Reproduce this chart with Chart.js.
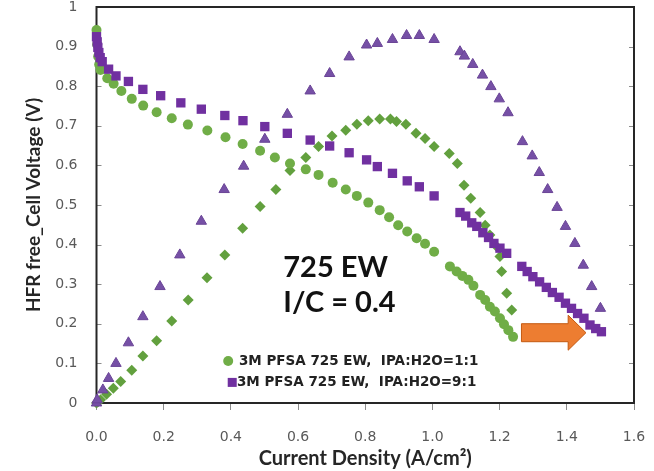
<!DOCTYPE html>
<html>
<head>
<meta charset="utf-8">
<script src="https://cdn.jsdelivr.net/npm/chart.js@4.4.0/dist/chart.umd.min.js"></script>
<style>
  html, body { margin: 0; padding: 0; background: #fff; }
  #wrap { width: 654px; height: 471px; }
</style>
</head>
<body>
<div id="wrap"><canvas id="polChart" width="654" height="471"></canvas></div>
<script>
// current density (A/cm2) and HFR-free voltage, IPA:H2O = 1:1
const circX = [0, 0.002, 0.005, 0.008, 0.012, 0.032, 0.051, 0.074, 0.105, 0.139, 0.179, 0.224, 0.272, 0.330, 0.384,
  0.435, 0.487, 0.531, 0.576, 0.623, 0.661, 0.703, 0.742, 0.775, 0.809, 0.843, 0.871, 0.898, 0.925, 0.953,
  0.978, 1.005, 1.052, 1.072, 1.089, 1.107, 1.122, 1.142, 1.157, 1.171, 1.186, 1.201, 1.213, 1.226, 1.240];
const circV = [0.942, 0.905, 0.875, 0.855, 0.841, 0.820, 0.806, 0.788, 0.768, 0.751, 0.734, 0.719, 0.703, 0.688, 0.671,
  0.654, 0.637, 0.620, 0.605, 0.590, 0.576, 0.556, 0.539, 0.523, 0.506, 0.487, 0.469, 0.449, 0.433, 0.416,
  0.402, 0.382, 0.345, 0.332, 0.321, 0.311, 0.296, 0.273, 0.260, 0.243, 0.231, 0.214, 0.199, 0.184, 0.167];

// power density markers (right axis, read against left scale), IPA:H2O = 1:1
const diamX = [0, 0.004, 0.012, 0.030, 0.050, 0.072, 0.105, 0.138, 0.179, 0.224, 0.273, 0.329, 0.382, 0.435, 0.487,
  0.534, 0.576, 0.623, 0.661, 0.701, 0.742, 0.775, 0.809, 0.843, 0.875, 0.893, 0.921, 0.951, 0.978, 1.005,
  1.050, 1.074, 1.094, 1.114, 1.142, 1.157, 1.171, 1.191, 1.201, 1.206, 1.221, 1.236];
const diamP = [0, 0.003, 0.008, 0.022, 0.037, 0.054, 0.083, 0.119, 0.157, 0.207, 0.260, 0.316, 0.374, 0.441, 0.496,
  0.539, 0.587, 0.620, 0.648, 0.674, 0.689, 0.704, 0.713, 0.717, 0.717, 0.711, 0.704, 0.681, 0.668, 0.648,
  0.630, 0.605, 0.550, 0.517, 0.481, 0.449, 0.424, 0.395, 0.370, 0.332, 0.277, 0.235];

// IPA:H2O = 9:1
const sqX = [0, 0.002, 0.004, 0.007, 0.011, 0.017, 0.036, 0.058, 0.095, 0.138, 0.191, 0.251, 0.312, 0.382, 0.436,
  0.501, 0.568, 0.636, 0.694, 0.752, 0.804, 0.836, 0.881, 0.925, 0.961, 1.005, 1.082, 1.099, 1.117, 1.132,
  1.150, 1.167, 1.183, 1.201, 1.221, 1.266, 1.282, 1.299, 1.319, 1.339, 1.357, 1.377, 1.396, 1.414, 1.432,
  1.451, 1.469, 1.486, 1.503];
const sqV = [0.925, 0.912, 0.898, 0.885, 0.872, 0.862, 0.843, 0.826, 0.812, 0.792, 0.776, 0.758, 0.742, 0.726, 0.713,
  0.698, 0.681, 0.664, 0.649, 0.632, 0.614, 0.597, 0.580, 0.561, 0.546, 0.523, 0.481, 0.472, 0.455, 0.446,
  0.430, 0.418, 0.403, 0.391, 0.378, 0.345, 0.332, 0.319, 0.306, 0.292, 0.279, 0.267, 0.252, 0.239, 0.226,
  0.214, 0.197, 0.188, 0.180];

const triX = [0, 0.002, 0.019, 0.036, 0.058, 0.095, 0.138, 0.189, 0.248, 0.312, 0.380, 0.438, 0.501, 0.568, 0.636,
  0.694, 0.752, 0.804, 0.836, 0.881, 0.923, 0.961, 1.005, 1.082, 1.095, 1.120, 1.149, 1.174, 1.199, 1.225,
  1.268, 1.297, 1.318, 1.343, 1.371, 1.396, 1.424, 1.449, 1.474, 1.500];
const triP = [0, 0.008, 0.033, 0.062, 0.100, 0.152, 0.218, 0.294, 0.374, 0.459, 0.539, 0.598, 0.666, 0.729, 0.788,
  0.832, 0.874, 0.904, 0.908, 0.918, 0.928, 0.928, 0.918, 0.887, 0.876, 0.855, 0.828, 0.799, 0.768, 0.733,
  0.660, 0.624, 0.582, 0.539, 0.494, 0.446, 0.403, 0.348, 0.294, 0.239];

const legendLabels = ['3M PFSA 725 EW,  IPA:H2O=1:1', '3M PFSA 725 EW,  IPA:H2O=9:1'];
const noteLines = ['725 EW', 'I/C = 0.4'];

const green = '#70ad47';
const greenDark = '#62a03e';
const purple = '#7030a0';
const purpleTri = '#7650a6';

const toPoints = (xs, ys) => xs.map((x, i) => ({ x, y: ys[i] }));

const overlay = {
  id: 'overlay',
  beforeDatasetsDraw(chart) {
    const { ctx, chartArea: a, scales: { y } } = chart;
    ctx.save();
    ctx.strokeStyle = '#8c8c8c';
    ctx.lineWidth = 1;
    y.ticks.forEach((t) => {
      const py = Math.round(y.getPixelForValue(t.value)) + 0.5;
      ctx.beginPath();
      ctx.moveTo(a.left, py); ctx.lineTo(a.left + 5, py);
      ctx.moveTo(a.right, py); ctx.lineTo(a.right - 5, py);
      ctx.stroke();
    });
    ctx.strokeStyle = '#262626';
    ctx.lineWidth = 2;
    ctx.strokeRect(a.left, a.top, a.right - a.left, a.bottom - a.top);
    ctx.restore();
  },
  afterDatasetsDraw(chart) {
    const { ctx, scales: { x, y } } = chart;
    ctx.save();
    // big note
    ctx.fillStyle = '#111';
    ctx.font = 'bold 29px Lato';
    ctx.textBaseline = 'alphabetic';
    ctx.fillText(noteLines[0], x.getPixelForValue(0.556), y.getPixelForValue(0.317));
    ctx.fillText(noteLines[1], x.getPixelForValue(0.556), y.getPixelForValue(0.229));

    // legend
    ctx.font = 'bold 13.5px "DejaVu Sans"';
    ctx.textBaseline = 'middle';
    ctx.fillStyle = '#222';
    let ly = y.getPixelForValue(0.106);
    ctx.fillText(legendLabels[0], x.getPixelForValue(0.424), ly);
    ctx.fillStyle = green;
    ctx.beginPath();
    ctx.arc(x.getPixelForValue(0.392), ly, 5, 0, Math.PI * 2);
    ctx.fill();
    ly = y.getPixelForValue(0.052);
    ctx.fillStyle = '#222';
    ctx.fillText(legendLabels[1], x.getPixelForValue(0.418), ly);
    ctx.fillStyle = purple;
    ctx.fillRect(x.getPixelForValue(0.404) - 4.5, ly - 4.5, 9, 9);

    // orange arrow
    const x0 = x.getPixelForValue(1.265);
    const xb = x.getPixelForValue(1.404);
    const xt = x.getPixelForValue(1.457);
    const yc = y.getPixelForValue(0.1775);
    ctx.beginPath();
    ctx.moveTo(x0, yc - 9);
    ctx.lineTo(xb, yc - 9);
    ctx.lineTo(xb, yc - 17.5);
    ctx.lineTo(xt, yc);
    ctx.lineTo(xb, yc + 17.5);
    ctx.lineTo(xb, yc + 9);
    ctx.lineTo(x0, yc + 9);
    ctx.closePath();
    ctx.fillStyle = '#ed7d31';
    ctx.fill();
    ctx.strokeStyle = '#c55a11';
    ctx.lineWidth = 1;
    ctx.stroke();
    ctx.restore();
  },
};

const ctx = document.getElementById('polChart').getContext('2d');
new Chart(ctx, {
  type: 'scatter',
  data: {
    datasets: [
      {
        label: 'IPA:H2O=9:1 voltage',
        data: toPoints(sqX, sqV),
        pointStyle: 'rect', pointRadius: 6.6,
        backgroundColor: purple, borderColor: purple, borderWidth: 0,
        clip: false, order: 1,
      },
      {
        label: 'IPA:H2O=9:1 power',
        data: toPoints(triX, triP),
        pointStyle: 'triangle', pointRadius: 6,
        backgroundColor: purpleTri, borderColor: '#6a4496', borderWidth: 1,
        clip: false, order: 2,
      },
      {
        label: 'IPA:H2O=1:1 voltage',
        data: toPoints(circX, circV),
        pointStyle: 'circle', pointRadius: 5,
        backgroundColor: green, borderColor: green, borderWidth: 0,
        clip: false, order: 3,
      },
      {
        label: 'IPA:H2O=1:1 power',
        data: toPoints(diamX, diamP),
        pointStyle: 'rectRot', pointRadius: 5.5,
        backgroundColor: greenDark, borderColor: greenDark, borderWidth: 0,
        clip: false, order: 4,
      },
    ],
  },
  options: {
    responsive: false,
    animation: false,
    layout: { padding: { top: 7, right: 20, left: 0, bottom: 0 } },
    plugins: { legend: { display: false }, tooltip: { enabled: false } },
    scales: {
      x: {
        type: 'linear', min: 0, max: 1.6,
        ticks: {
          stepSize: 0.2,
          callback: v => v.toFixed(1),
          font: { family: 'DejaVu Sans', size: 14 },
          color: '#595959',
          padding: 19,
        },
        grid: { drawOnChartArea: false, tickLength: 7, color: '#8c8c8c' },
        border: { display: false },
        title: {
          display: true,
          text: 'Current Density (A/cm²)',
          font: { family: 'Lato', size: 20, weight: 'bold' },
          color: '#262626',
          padding: { top: 0, bottom: 0 },
        },
        afterFit(scale) {
          scale.height = 68;
          scale.paddingLeft = 0;
          scale.paddingRight = 0;
        },
      },
      y: {
        min: 0, max: 1,
        ticks: {
          stepSize: 0.1,
          callback: v => String(Math.round(v * 10) / 10),
          font: { family: 'DejaVu Sans', size: 14 },
          color: '#595959',
          padding: 19,
        },
        grid: { drawOnChartArea: false, drawTicks: false },
        border: { display: false },
        title: {
          display: true,
          text: 'HFR free_Cell Voltage (V)',
          font: { family: 'Lato', size: 19, weight: 'bold' },
          color: '#262626',
          padding: { top: 22, bottom: 0 },
        },
        afterFit(scale) {
          scale.width = 96.5;
          scale.paddingTop = 0;
          scale.paddingBottom = 0;
        },
      },
    },
  },
  plugins: [overlay],
});
</script>
</body>
</html>
